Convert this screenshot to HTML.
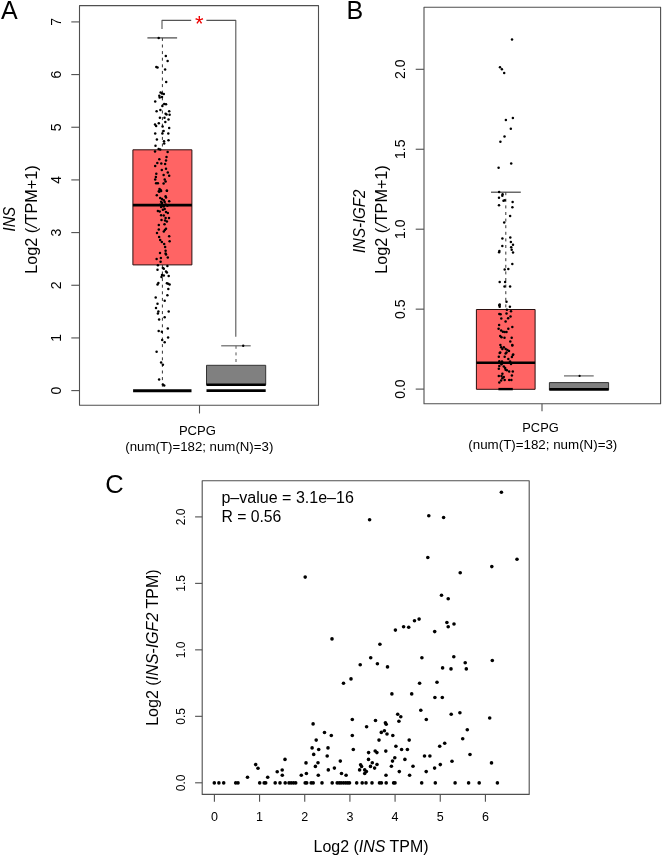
<!DOCTYPE html>
<html><head><meta charset="utf-8"><style>
html,body{margin:0;padding:0;background:#fff;}
svg{display:block;font-family:"Liberation Sans", sans-serif;will-change:transform;-webkit-font-smoothing:antialiased;}
</style></head><body>
<svg width="667" height="857" viewBox="0 0 667 857">
<rect x="0" y="0" width="667" height="857" fill="#fff"/>
<text x="1.00" y="19.00" font-size="25" text-anchor="start" fill="#000" >A</text>
<rect x="79.50" y="5.60" width="239.00" height="399.60" fill="none" stroke="#4f4f4f" stroke-width="1.1" stroke-linejoin="round"/>
<line x1="71.30" y1="390.60" x2="79.50" y2="390.60" stroke="#4f4f4f" stroke-width="1.1" />
<text x="60.60" y="390.60" font-size="14" text-anchor="middle" transform="rotate(-90 60.60 390.60)" fill="#000" >0</text>
<line x1="71.30" y1="337.93" x2="79.50" y2="337.93" stroke="#4f4f4f" stroke-width="1.1" />
<text x="60.60" y="337.93" font-size="14" text-anchor="middle" transform="rotate(-90 60.60 337.93)" fill="#000" >1</text>
<line x1="71.30" y1="285.26" x2="79.50" y2="285.26" stroke="#4f4f4f" stroke-width="1.1" />
<text x="60.60" y="285.26" font-size="14" text-anchor="middle" transform="rotate(-90 60.60 285.26)" fill="#000" >2</text>
<line x1="71.30" y1="232.59" x2="79.50" y2="232.59" stroke="#4f4f4f" stroke-width="1.1" />
<text x="60.60" y="232.59" font-size="14" text-anchor="middle" transform="rotate(-90 60.60 232.59)" fill="#000" >3</text>
<line x1="71.30" y1="179.92" x2="79.50" y2="179.92" stroke="#4f4f4f" stroke-width="1.1" />
<text x="60.60" y="179.92" font-size="14" text-anchor="middle" transform="rotate(-90 60.60 179.92)" fill="#000" >4</text>
<line x1="71.30" y1="127.25" x2="79.50" y2="127.25" stroke="#4f4f4f" stroke-width="1.1" />
<text x="60.60" y="127.25" font-size="14" text-anchor="middle" transform="rotate(-90 60.60 127.25)" fill="#000" >5</text>
<line x1="71.30" y1="74.58" x2="79.50" y2="74.58" stroke="#4f4f4f" stroke-width="1.1" />
<text x="60.60" y="74.58" font-size="14" text-anchor="middle" transform="rotate(-90 60.60 74.58)" fill="#000" >6</text>
<line x1="71.30" y1="21.91" x2="79.50" y2="21.91" stroke="#4f4f4f" stroke-width="1.1" />
<text x="60.60" y="21.91" font-size="14" text-anchor="middle" transform="rotate(-90 60.60 21.91)" fill="#000" >7</text>
<text x="15.30" y="219.20" font-size="16" text-anchor="middle" font-style="italic" textLength="24.5" lengthAdjust="spacingAndGlyphs" transform="rotate(-90 15.30 219.20)" fill="#000" >INS</text>
<text x="36.6" y="219.6" font-size="16" text-anchor="middle" transform="rotate(-90 36.6 219.6)" textLength="108.5" lengthAdjust="spacingAndGlyphs">Log2 (<tspan font-style="italic">/</tspan>TPM+1)</text>
<rect x="132.90" y="149.80" width="59.00" height="115.10" fill="#ff6464" stroke="#2a1010" stroke-width="1.0" stroke-linejoin="round"/>
<line x1="162.40" y1="37.90" x2="162.40" y2="149.80" stroke="#333" stroke-width="1.0" stroke-dasharray="3,3.6"/>
<line x1="162.40" y1="264.90" x2="162.40" y2="390.60" stroke="#333" stroke-width="1.0" stroke-dasharray="3,3.6"/>
<line x1="147.40" y1="37.90" x2="177.10" y2="37.90" stroke="#444" stroke-width="1.2" />
<circle cx="158.7" cy="38.1" r="1.25" fill="#000"/>
<circle cx="165.8" cy="56.1" r="1.25" fill="#000"/>
<circle cx="167.6" cy="61.0" r="1.25" fill="#000"/>
<circle cx="156.3" cy="66.9" r="1.25" fill="#000"/>
<circle cx="157.5" cy="67.6" r="1.25" fill="#000"/>
<circle cx="165.1" cy="69.6" r="1.25" fill="#000"/>
<circle cx="166.2" cy="81.9" r="1.25" fill="#000"/>
<circle cx="160.6" cy="92.6" r="1.25" fill="#000"/>
<circle cx="162.0" cy="93.5" r="1.25" fill="#000"/>
<circle cx="163.8" cy="94.0" r="1.25" fill="#000"/>
<circle cx="159.3" cy="95.8" r="1.25" fill="#000"/>
<circle cx="159.7" cy="97.6" r="1.25" fill="#000"/>
<circle cx="162.0" cy="97.1" r="1.25" fill="#000"/>
<circle cx="155.2" cy="101.4" r="1.25" fill="#000"/>
<circle cx="164.2" cy="103.9" r="1.25" fill="#000"/>
<circle cx="166.0" cy="104.3" r="1.25" fill="#000"/>
<circle cx="162.4" cy="106.1" r="1.25" fill="#000"/>
<circle cx="156.6" cy="111.3" r="1.25" fill="#000"/>
<circle cx="160.4" cy="110.0" r="1.25" fill="#000"/>
<circle cx="169.2" cy="111.3" r="1.25" fill="#000"/>
<circle cx="165.6" cy="113.8" r="1.25" fill="#000"/>
<circle cx="166.5" cy="114.5" r="1.25" fill="#000"/>
<circle cx="169.6" cy="114.7" r="1.25" fill="#000"/>
<circle cx="159.9" cy="117.8" r="1.25" fill="#000"/>
<circle cx="164.5" cy="117.8" r="1.25" fill="#000"/>
<circle cx="168.5" cy="119.6" r="1.25" fill="#000"/>
<circle cx="165.3" cy="121.9" r="1.25" fill="#000"/>
<circle cx="158.8" cy="123.2" r="1.25" fill="#000"/>
<circle cx="155.0" cy="124.6" r="1.25" fill="#000"/>
<circle cx="156.1" cy="125.9" r="1.25" fill="#000"/>
<circle cx="162.6" cy="126.5" r="1.25" fill="#000"/>
<circle cx="169.2" cy="128.0" r="1.25" fill="#000"/>
<circle cx="163.6" cy="131.0" r="1.25" fill="#000"/>
<circle cx="155.2" cy="133.6" r="1.25" fill="#000"/>
<circle cx="168.3" cy="133.6" r="1.25" fill="#000"/>
<circle cx="162.4" cy="133.6" r="1.25" fill="#000"/>
<circle cx="156.9" cy="139.4" r="1.25" fill="#000"/>
<circle cx="164.0" cy="141.2" r="1.25" fill="#000"/>
<circle cx="164.2" cy="143.5" r="1.25" fill="#000"/>
<circle cx="168.5" cy="140.3" r="1.25" fill="#000"/>
<circle cx="155.5" cy="145.8" r="1.25" fill="#000"/>
<circle cx="158.6" cy="149.0" r="1.25" fill="#000"/>
<circle cx="160.2" cy="149.4" r="1.25" fill="#000"/>
<circle cx="155.0" cy="151.5" r="1.25" fill="#000"/>
<circle cx="167.6" cy="152.1" r="1.25" fill="#000"/>
<circle cx="166.5" cy="156.9" r="1.25" fill="#000"/>
<circle cx="159.3" cy="159.2" r="1.25" fill="#000"/>
<circle cx="166.0" cy="160.5" r="1.25" fill="#000"/>
<circle cx="157.3" cy="162.9" r="1.25" fill="#000"/>
<circle cx="161.3" cy="163.6" r="1.25" fill="#000"/>
<circle cx="165.1" cy="164.1" r="1.25" fill="#000"/>
<circle cx="155.2" cy="166.1" r="1.25" fill="#000"/>
<circle cx="166.0" cy="168.8" r="1.25" fill="#000"/>
<circle cx="161.8" cy="170.1" r="1.25" fill="#000"/>
<circle cx="167.8" cy="172.4" r="1.25" fill="#000"/>
<circle cx="163.6" cy="175.1" r="1.25" fill="#000"/>
<circle cx="169.2" cy="175.8" r="1.25" fill="#000"/>
<circle cx="156.3" cy="173.7" r="1.25" fill="#000"/>
<circle cx="155.9" cy="176.9" r="1.25" fill="#000"/>
<circle cx="155.2" cy="179.6" r="1.25" fill="#000"/>
<circle cx="164.7" cy="179.6" r="1.25" fill="#000"/>
<circle cx="165.6" cy="181.4" r="1.25" fill="#000"/>
<circle cx="163.6" cy="183.6" r="1.25" fill="#000"/>
<circle cx="156.1" cy="183.3" r="1.25" fill="#000"/>
<circle cx="157.9" cy="183.3" r="1.25" fill="#000"/>
<circle cx="159.5" cy="189.0" r="1.25" fill="#000"/>
<circle cx="160.6" cy="189.9" r="1.25" fill="#000"/>
<circle cx="159.3" cy="191.7" r="1.25" fill="#000"/>
<circle cx="166.9" cy="190.8" r="1.25" fill="#000"/>
<circle cx="156.8" cy="195.3" r="1.25" fill="#000"/>
<circle cx="165.6" cy="196.2" r="1.25" fill="#000"/>
<circle cx="166.0" cy="197.6" r="1.25" fill="#000"/>
<circle cx="160.2" cy="198.0" r="1.25" fill="#000"/>
<circle cx="162.0" cy="198.9" r="1.25" fill="#000"/>
<circle cx="158.8" cy="191.3" r="1.25" fill="#000"/>
<circle cx="161.1" cy="190.9" r="1.25" fill="#000"/>
<circle cx="166.9" cy="190.7" r="1.25" fill="#000"/>
<circle cx="163.8" cy="200.3" r="1.25" fill="#000"/>
<circle cx="161.1" cy="201.7" r="1.25" fill="#000"/>
<circle cx="162.0" cy="203.0" r="1.25" fill="#000"/>
<circle cx="164.7" cy="202.1" r="1.25" fill="#000"/>
<circle cx="169.2" cy="201.2" r="1.25" fill="#000"/>
<circle cx="160.2" cy="204.8" r="1.25" fill="#000"/>
<circle cx="162.0" cy="205.7" r="1.25" fill="#000"/>
<circle cx="163.8" cy="206.6" r="1.25" fill="#000"/>
<circle cx="165.6" cy="204.4" r="1.25" fill="#000"/>
<circle cx="167.4" cy="205.7" r="1.25" fill="#000"/>
<circle cx="161.1" cy="207.1" r="1.25" fill="#000"/>
<circle cx="164.7" cy="208.9" r="1.25" fill="#000"/>
<circle cx="162.9" cy="209.8" r="1.25" fill="#000"/>
<circle cx="157.9" cy="210.9" r="1.25" fill="#000"/>
<circle cx="159.7" cy="211.6" r="1.25" fill="#000"/>
<circle cx="166.0" cy="212.0" r="1.25" fill="#000"/>
<circle cx="167.8" cy="212.9" r="1.25" fill="#000"/>
<circle cx="161.1" cy="215.2" r="1.25" fill="#000"/>
<circle cx="163.8" cy="215.6" r="1.25" fill="#000"/>
<circle cx="165.6" cy="217.9" r="1.25" fill="#000"/>
<circle cx="169.0" cy="218.1" r="1.25" fill="#000"/>
<circle cx="161.5" cy="220.1" r="1.25" fill="#000"/>
<circle cx="165.1" cy="220.6" r="1.25" fill="#000"/>
<circle cx="166.9" cy="221.5" r="1.25" fill="#000"/>
<circle cx="158.8" cy="225.1" r="1.25" fill="#000"/>
<circle cx="164.5" cy="224.2" r="1.25" fill="#000"/>
<circle cx="158.8" cy="229.6" r="1.25" fill="#000"/>
<circle cx="166.0" cy="228.7" r="1.25" fill="#000"/>
<circle cx="163.8" cy="231.4" r="1.25" fill="#000"/>
<circle cx="164.9" cy="230.0" r="1.25" fill="#000"/>
<circle cx="157.0" cy="233.0" r="1.25" fill="#000"/>
<circle cx="169.2" cy="236.3" r="1.25" fill="#000"/>
<circle cx="159.1" cy="236.9" r="1.25" fill="#000"/>
<circle cx="160.2" cy="239.9" r="1.25" fill="#000"/>
<circle cx="161.8" cy="242.0" r="1.25" fill="#000"/>
<circle cx="169.6" cy="241.3" r="1.25" fill="#000"/>
<circle cx="164.2" cy="244.0" r="1.25" fill="#000"/>
<circle cx="165.1" cy="247.1" r="1.25" fill="#000"/>
<circle cx="165.6" cy="250.8" r="1.25" fill="#000"/>
<circle cx="165.6" cy="253.5" r="1.25" fill="#000"/>
<circle cx="166.0" cy="254.4" r="1.25" fill="#000"/>
<circle cx="160.0" cy="253.0" r="1.25" fill="#000"/>
<circle cx="167.8" cy="257.5" r="1.25" fill="#000"/>
<circle cx="156.6" cy="258.9" r="1.25" fill="#000"/>
<circle cx="160.9" cy="258.0" r="1.25" fill="#000"/>
<circle cx="160.6" cy="261.8" r="1.25" fill="#000"/>
<circle cx="157.9" cy="265.2" r="1.25" fill="#000"/>
<circle cx="167.4" cy="266.1" r="1.25" fill="#000"/>
<circle cx="157.5" cy="269.7" r="1.25" fill="#000"/>
<circle cx="163.8" cy="268.8" r="1.25" fill="#000"/>
<circle cx="162.9" cy="267.9" r="1.25" fill="#000"/>
<circle cx="166.0" cy="271.5" r="1.25" fill="#000"/>
<circle cx="166.9" cy="272.4" r="1.25" fill="#000"/>
<circle cx="162.0" cy="275.1" r="1.25" fill="#000"/>
<circle cx="163.8" cy="275.5" r="1.25" fill="#000"/>
<circle cx="161.5" cy="276.9" r="1.25" fill="#000"/>
<circle cx="168.7" cy="276.0" r="1.25" fill="#000"/>
<circle cx="158.4" cy="283.0" r="1.25" fill="#000"/>
<circle cx="157.5" cy="284.5" r="1.25" fill="#000"/>
<circle cx="166.9" cy="283.2" r="1.25" fill="#000"/>
<circle cx="168.2" cy="283.8" r="1.25" fill="#000"/>
<circle cx="169.6" cy="284.5" r="1.25" fill="#000"/>
<circle cx="168.3" cy="289.0" r="1.25" fill="#000"/>
<circle cx="155.7" cy="297.6" r="1.25" fill="#000"/>
<circle cx="167.4" cy="295.3" r="1.25" fill="#000"/>
<circle cx="164.7" cy="300.8" r="1.25" fill="#000"/>
<circle cx="157.5" cy="303.7" r="1.25" fill="#000"/>
<circle cx="156.0" cy="308.0" r="1.25" fill="#000"/>
<circle cx="158.4" cy="311.6" r="1.25" fill="#000"/>
<circle cx="157.9" cy="313.6" r="1.25" fill="#000"/>
<circle cx="168.7" cy="311.6" r="1.25" fill="#000"/>
<circle cx="164.7" cy="317.2" r="1.25" fill="#000"/>
<circle cx="159.1" cy="319.5" r="1.25" fill="#000"/>
<circle cx="167.8" cy="328.5" r="1.25" fill="#000"/>
<circle cx="158.7" cy="330.9" r="1.25" fill="#000"/>
<circle cx="161.8" cy="331.8" r="1.25" fill="#000"/>
<circle cx="168.1" cy="337.5" r="1.25" fill="#000"/>
<circle cx="162.2" cy="339.9" r="1.25" fill="#000"/>
<circle cx="164.7" cy="342.2" r="1.25" fill="#000"/>
<circle cx="156.6" cy="351.7" r="1.25" fill="#000"/>
<circle cx="161.1" cy="362.5" r="1.25" fill="#000"/>
<circle cx="162.9" cy="364.7" r="1.25" fill="#000"/>
<circle cx="159.1" cy="379.4" r="1.25" fill="#000"/>
<circle cx="162.9" cy="384.5" r="1.25" fill="#000"/>
<circle cx="164.2" cy="385.4" r="1.25" fill="#000"/>
<line x1="133.10" y1="390.70" x2="191.50" y2="390.70" stroke="#000" stroke-width="3.0" />
<line x1="132.90" y1="205.10" x2="191.90" y2="205.10" stroke="#000" stroke-width="2.8" />
<line x1="236.00" y1="345.80" x2="236.00" y2="365.30" stroke="#555" stroke-width="1.0" stroke-dasharray="3,3.6"/>
<line x1="221.20" y1="345.80" x2="250.70" y2="345.80" stroke="#666" stroke-width="1.2" />
<rect x="206.50" y="365.30" width="59.20" height="19.50" fill="#808080" stroke="#333" stroke-width="1.0" stroke-linejoin="round"/>
<line x1="206.50" y1="384.80" x2="265.70" y2="384.80" stroke="#000" stroke-width="2.6" />
<line x1="206.50" y1="390.60" x2="265.70" y2="390.60" stroke="#000" stroke-width="2.6" />
<circle cx="243.2" cy="345.8" r="1.2" fill="#000"/>
<polyline points="162,28.9 162,20.4 191.2,20.4" fill="none" stroke="#555" stroke-width="1.1" stroke-linejoin="round"/>
<polyline points="206.4,20.4 235.8,20.4 235.8,336.8" fill="none" stroke="#555" stroke-width="1.1" stroke-linejoin="round"/>
<text x="199.20" y="31.40" font-size="22" text-anchor="middle" fill="#ee0000" >*</text>
<line x1="199.50" y1="405.20" x2="199.50" y2="413.50" stroke="#4f4f4f" stroke-width="1.1" />
<text x="197.40" y="434.50" font-size="12.5" text-anchor="middle" textLength="37" lengthAdjust="spacingAndGlyphs" fill="#000" >PCPG</text>
<text x="199.30" y="450.50" font-size="12.5" text-anchor="middle" textLength="148" lengthAdjust="spacingAndGlyphs" fill="#000" >(num(T)=182; num(N)=3)</text>
<text x="346.60" y="19.00" font-size="25" text-anchor="start" fill="#000" >B</text>
<rect x="424.00" y="7.20" width="236.60" height="396.60" fill="none" stroke="#4f4f4f" stroke-width="1.1" stroke-linejoin="round"/>
<line x1="415.70" y1="389.10" x2="424.00" y2="389.10" stroke="#4f4f4f" stroke-width="1.1" />
<text x="405.40" y="389.10" font-size="14" text-anchor="middle" transform="rotate(-90 405.40 389.10)" fill="#000" >0.0</text>
<line x1="415.70" y1="309.15" x2="424.00" y2="309.15" stroke="#4f4f4f" stroke-width="1.1" />
<text x="405.40" y="309.15" font-size="14" text-anchor="middle" transform="rotate(-90 405.40 309.15)" fill="#000" >0.5</text>
<line x1="415.70" y1="229.20" x2="424.00" y2="229.20" stroke="#4f4f4f" stroke-width="1.1" />
<text x="405.40" y="229.20" font-size="14" text-anchor="middle" transform="rotate(-90 405.40 229.20)" fill="#000" >1.0</text>
<line x1="415.70" y1="149.25" x2="424.00" y2="149.25" stroke="#4f4f4f" stroke-width="1.1" />
<text x="405.40" y="149.25" font-size="14" text-anchor="middle" transform="rotate(-90 405.40 149.25)" fill="#000" >1.5</text>
<line x1="415.70" y1="69.30" x2="424.00" y2="69.30" stroke="#4f4f4f" stroke-width="1.1" />
<text x="405.40" y="69.30" font-size="14" text-anchor="middle" transform="rotate(-90 405.40 69.30)" fill="#000" >2.0</text>
<text x="365.20" y="221.40" font-size="16" text-anchor="middle" font-style="italic" textLength="63.4" lengthAdjust="spacingAndGlyphs" transform="rotate(-90 365.20 221.40)" fill="#000" >INS-IGF2</text>
<text x="386.9" y="219.5" font-size="16" text-anchor="middle" transform="rotate(-90 386.9 219.5)" textLength="108.5" lengthAdjust="spacingAndGlyphs">Log2 (<tspan font-style="italic">/</tspan>TPM+1)</text>
<rect x="476.40" y="309.50" width="58.70" height="79.80" fill="#ff6464" stroke="#2a1010" stroke-width="1.0" stroke-linejoin="round"/>
<line x1="505.80" y1="192.20" x2="505.80" y2="309.50" stroke="#333" stroke-width="1.0" stroke-dasharray="3,3.6"/>
<line x1="491.00" y1="192.20" x2="520.80" y2="192.20" stroke="#444" stroke-width="1.2" />
<circle cx="512.0" cy="39.5" r="1.25" fill="#000"/>
<circle cx="500.0" cy="67.2" r="1.25" fill="#000"/>
<circle cx="501.9" cy="69.3" r="1.25" fill="#000"/>
<circle cx="504.2" cy="72.9" r="1.25" fill="#000"/>
<circle cx="505.9" cy="120.1" r="1.25" fill="#000"/>
<circle cx="512.9" cy="117.9" r="1.25" fill="#000"/>
<circle cx="510.8" cy="128.8" r="1.25" fill="#000"/>
<circle cx="504.5" cy="136.4" r="1.25" fill="#000"/>
<circle cx="500.4" cy="141.8" r="1.25" fill="#000"/>
<circle cx="511.2" cy="163.4" r="1.25" fill="#000"/>
<circle cx="498.6" cy="167.7" r="1.25" fill="#000"/>
<circle cx="499.1" cy="192.0" r="1.25" fill="#000"/>
<circle cx="502.3" cy="195.7" r="1.25" fill="#000"/>
<circle cx="502.6" cy="194.2" r="1.25" fill="#000"/>
<circle cx="499.0" cy="197.8" r="1.25" fill="#000"/>
<circle cx="503.5" cy="200.7" r="1.25" fill="#000"/>
<circle cx="504.7" cy="200.3" r="1.25" fill="#000"/>
<circle cx="512.6" cy="201.9" r="1.25" fill="#000"/>
<circle cx="499.0" cy="205.2" r="1.25" fill="#000"/>
<circle cx="512.4" cy="207.3" r="1.25" fill="#000"/>
<circle cx="510.1" cy="215.9" r="1.25" fill="#000"/>
<circle cx="504.2" cy="222.5" r="1.25" fill="#000"/>
<circle cx="502.4" cy="238.6" r="1.25" fill="#000"/>
<circle cx="510.3" cy="237.4" r="1.25" fill="#000"/>
<circle cx="510.9" cy="241.9" r="1.25" fill="#000"/>
<circle cx="513.0" cy="244.8" r="1.25" fill="#000"/>
<circle cx="502.3" cy="246.0" r="1.25" fill="#000"/>
<circle cx="511.2" cy="247.2" r="1.25" fill="#000"/>
<circle cx="511.7" cy="249.7" r="1.25" fill="#000"/>
<circle cx="499.4" cy="251.0" r="1.25" fill="#000"/>
<circle cx="499.1" cy="252.3" r="1.25" fill="#000"/>
<circle cx="513.0" cy="252.4" r="1.25" fill="#000"/>
<circle cx="512.3" cy="263.9" r="1.25" fill="#000"/>
<circle cx="504.7" cy="269.5" r="1.25" fill="#000"/>
<circle cx="508.3" cy="269.1" r="1.25" fill="#000"/>
<circle cx="499.7" cy="282.1" r="1.25" fill="#000"/>
<circle cx="505.1" cy="281.9" r="1.25" fill="#000"/>
<circle cx="504.5" cy="286.5" r="1.25" fill="#000"/>
<circle cx="510.1" cy="286.5" r="1.25" fill="#000"/>
<circle cx="506.5" cy="301.7" r="1.25" fill="#000"/>
<circle cx="499.7" cy="304.4" r="1.25" fill="#000"/>
<circle cx="499.3" cy="305.3" r="1.25" fill="#000"/>
<circle cx="499.7" cy="306.7" r="1.25" fill="#000"/>
<circle cx="509.9" cy="306.7" r="1.25" fill="#000"/>
<circle cx="506.9" cy="309.8" r="1.25" fill="#000"/>
<circle cx="511.0" cy="311.2" r="1.25" fill="#000"/>
<circle cx="499.3" cy="313.9" r="1.25" fill="#000"/>
<circle cx="500.6" cy="314.3" r="1.25" fill="#000"/>
<circle cx="506.5" cy="313.4" r="1.25" fill="#000"/>
<circle cx="510.5" cy="316.6" r="1.25" fill="#000"/>
<circle cx="508.1" cy="318.2" r="1.25" fill="#000"/>
<circle cx="501.3" cy="318.4" r="1.25" fill="#000"/>
<circle cx="505.6" cy="321.6" r="1.25" fill="#000"/>
<circle cx="499.1" cy="325.1" r="1.25" fill="#000"/>
<circle cx="498.6" cy="328.7" r="1.25" fill="#000"/>
<circle cx="512.3" cy="326.9" r="1.25" fill="#000"/>
<circle cx="508.3" cy="328.7" r="1.25" fill="#000"/>
<circle cx="501.1" cy="330.5" r="1.25" fill="#000"/>
<circle cx="502.9" cy="331.7" r="1.25" fill="#000"/>
<circle cx="504.7" cy="331.9" r="1.25" fill="#000"/>
<circle cx="506.5" cy="331.9" r="1.25" fill="#000"/>
<circle cx="500.2" cy="335.9" r="1.25" fill="#000"/>
<circle cx="501.5" cy="337.3" r="1.25" fill="#000"/>
<circle cx="504.5" cy="337.7" r="1.25" fill="#000"/>
<circle cx="511.7" cy="337.7" r="1.25" fill="#000"/>
<circle cx="510.3" cy="341.6" r="1.25" fill="#000"/>
<circle cx="512.3" cy="344.9" r="1.25" fill="#000"/>
<circle cx="500.4" cy="344.9" r="1.25" fill="#000"/>
<circle cx="501.1" cy="347.2" r="1.25" fill="#000"/>
<circle cx="502.4" cy="349.0" r="1.25" fill="#000"/>
<circle cx="503.8" cy="347.2" r="1.25" fill="#000"/>
<circle cx="505.6" cy="349.0" r="1.25" fill="#000"/>
<circle cx="507.4" cy="349.9" r="1.25" fill="#000"/>
<circle cx="509.0" cy="350.9" r="1.25" fill="#000"/>
<circle cx="500.2" cy="352.6" r="1.25" fill="#000"/>
<circle cx="506.5" cy="352.6" r="1.25" fill="#000"/>
<circle cx="513.2" cy="354.4" r="1.25" fill="#000"/>
<circle cx="512.3" cy="345.4" r="1.25" fill="#000"/>
<circle cx="499.7" cy="353.1" r="1.25" fill="#000"/>
<circle cx="505.6" cy="353.5" r="1.25" fill="#000"/>
<circle cx="498.8" cy="356.7" r="1.25" fill="#000"/>
<circle cx="504.7" cy="356.7" r="1.25" fill="#000"/>
<circle cx="512.8" cy="354.9" r="1.25" fill="#000"/>
<circle cx="511.9" cy="357.1" r="1.25" fill="#000"/>
<circle cx="508.3" cy="358.9" r="1.25" fill="#000"/>
<circle cx="499.3" cy="361.2" r="1.25" fill="#000"/>
<circle cx="502.0" cy="361.6" r="1.25" fill="#000"/>
<circle cx="501.5" cy="364.3" r="1.25" fill="#000"/>
<circle cx="510.1" cy="361.6" r="1.25" fill="#000"/>
<circle cx="511.0" cy="363.9" r="1.25" fill="#000"/>
<circle cx="499.3" cy="366.1" r="1.25" fill="#000"/>
<circle cx="498.8" cy="368.8" r="1.25" fill="#000"/>
<circle cx="503.8" cy="366.6" r="1.25" fill="#000"/>
<circle cx="505.1" cy="367.9" r="1.25" fill="#000"/>
<circle cx="505.6" cy="369.7" r="1.25" fill="#000"/>
<circle cx="506.9" cy="370.2" r="1.25" fill="#000"/>
<circle cx="509.2" cy="371.5" r="1.25" fill="#000"/>
<circle cx="512.8" cy="371.5" r="1.25" fill="#000"/>
<circle cx="502.4" cy="373.8" r="1.25" fill="#000"/>
<circle cx="501.5" cy="376.0" r="1.25" fill="#000"/>
<circle cx="503.8" cy="376.9" r="1.25" fill="#000"/>
<circle cx="498.8" cy="376.0" r="1.25" fill="#000"/>
<circle cx="511.9" cy="375.6" r="1.25" fill="#000"/>
<circle cx="502.4" cy="378.3" r="1.25" fill="#000"/>
<circle cx="504.7" cy="380.1" r="1.25" fill="#000"/>
<circle cx="501.1" cy="380.5" r="1.25" fill="#000"/>
<circle cx="509.2" cy="380.1" r="1.25" fill="#000"/>
<circle cx="511.4" cy="380.1" r="1.25" fill="#000"/>
<circle cx="499.3" cy="382.6" r="1.25" fill="#000"/>
<line x1="476.40" y1="362.80" x2="535.10" y2="362.80" stroke="#000" stroke-width="2.6" />
<line x1="498.40" y1="389.10" x2="512.80" y2="389.10" stroke="#000" stroke-width="2.4" />
<line x1="564.00" y1="375.90" x2="593.70" y2="375.90" stroke="#666" stroke-width="1.2" />
<rect x="549.40" y="382.60" width="59.20" height="7.50" fill="#808080" stroke="#333" stroke-width="1.0" stroke-linejoin="round"/>
<line x1="549.40" y1="389.30" x2="608.60" y2="389.30" stroke="#000" stroke-width="2.4" />
<circle cx="579.6" cy="375.9" r="1.1" fill="#000"/>
<line x1="542.00" y1="403.80" x2="542.00" y2="411.20" stroke="#4f4f4f" stroke-width="1.1" />
<text x="540.50" y="432.00" font-size="12.5" text-anchor="middle" textLength="36.4" lengthAdjust="spacingAndGlyphs" fill="#000" >PCPG</text>
<text x="542.80" y="448.50" font-size="12.5" text-anchor="middle" textLength="149" lengthAdjust="spacingAndGlyphs" fill="#000" >(num(T)=182; num(N)=3)</text>
<text x="105.30" y="493.30" font-size="25.5" text-anchor="start" fill="#000" >C</text>
<rect x="202.20" y="480.80" width="327.00" height="313.60" fill="none" stroke="#4f4f4f" stroke-width="1.1" stroke-linejoin="round"/>
<line x1="195.10" y1="782.80" x2="202.20" y2="782.80" stroke="#4f4f4f" stroke-width="1.1" />
<text x="185.40" y="782.80" font-size="12" text-anchor="middle" transform="rotate(-90 185.40 782.80)" fill="#000" >0.0</text>
<line x1="195.10" y1="716.32" x2="202.20" y2="716.32" stroke="#4f4f4f" stroke-width="1.1" />
<text x="185.40" y="716.32" font-size="12" text-anchor="middle" transform="rotate(-90 185.40 716.32)" fill="#000" >0.5</text>
<line x1="195.10" y1="649.85" x2="202.20" y2="649.85" stroke="#4f4f4f" stroke-width="1.1" />
<text x="185.40" y="649.85" font-size="12" text-anchor="middle" transform="rotate(-90 185.40 649.85)" fill="#000" >1.0</text>
<line x1="195.10" y1="583.38" x2="202.20" y2="583.38" stroke="#4f4f4f" stroke-width="1.1" />
<text x="185.40" y="583.38" font-size="12" text-anchor="middle" transform="rotate(-90 185.40 583.38)" fill="#000" >1.5</text>
<line x1="195.10" y1="516.90" x2="202.20" y2="516.90" stroke="#4f4f4f" stroke-width="1.1" />
<text x="185.40" y="516.90" font-size="12" text-anchor="middle" transform="rotate(-90 185.40 516.90)" fill="#000" >2.0</text>
<line x1="214.40" y1="794.40" x2="214.40" y2="801.70" stroke="#4f4f4f" stroke-width="1.1" />
<text x="214.40" y="820.60" font-size="12.5" text-anchor="middle" fill="#000" >0</text>
<line x1="259.57" y1="794.40" x2="259.57" y2="801.70" stroke="#4f4f4f" stroke-width="1.1" />
<text x="259.57" y="820.60" font-size="12.5" text-anchor="middle" fill="#000" >1</text>
<line x1="304.74" y1="794.40" x2="304.74" y2="801.70" stroke="#4f4f4f" stroke-width="1.1" />
<text x="304.74" y="820.60" font-size="12.5" text-anchor="middle" fill="#000" >2</text>
<line x1="349.91" y1="794.40" x2="349.91" y2="801.70" stroke="#4f4f4f" stroke-width="1.1" />
<text x="349.91" y="820.60" font-size="12.5" text-anchor="middle" fill="#000" >3</text>
<line x1="395.08" y1="794.40" x2="395.08" y2="801.70" stroke="#4f4f4f" stroke-width="1.1" />
<text x="395.08" y="820.60" font-size="12.5" text-anchor="middle" fill="#000" >4</text>
<line x1="440.25" y1="794.40" x2="440.25" y2="801.70" stroke="#4f4f4f" stroke-width="1.1" />
<text x="440.25" y="820.60" font-size="12.5" text-anchor="middle" fill="#000" >5</text>
<line x1="485.42" y1="794.40" x2="485.42" y2="801.70" stroke="#4f4f4f" stroke-width="1.1" />
<text x="485.42" y="820.60" font-size="12.5" text-anchor="middle" fill="#000" >6</text>
<text x="221.40" y="503.30" font-size="16" text-anchor="start" textLength="132.5" lengthAdjust="spacingAndGlyphs" fill="#000" >p&#8211;value = 3.1e&#8211;16</text>
<text x="221.40" y="521.70" font-size="16" text-anchor="start" textLength="60" lengthAdjust="spacingAndGlyphs" fill="#000" >R = 0.56</text>
<text x="157.9" y="647.6" font-size="16" text-anchor="middle" transform="rotate(-90 157.9 647.6)" textLength="156.5" lengthAdjust="spacingAndGlyphs">Log2 (<tspan font-style="italic">INS-IGF2</tspan> TPM)</text>
<text x="371.1" y="851.6" font-size="16" text-anchor="middle" textLength="115" lengthAdjust="spacingAndGlyphs">Log2 (<tspan font-style="italic">INS</tspan> TPM)</text>
<circle cx="214.3" cy="782.9" r="1.8" fill="#000"/>
<circle cx="218.9" cy="782.9" r="1.8" fill="#000"/>
<circle cx="223.7" cy="782.9" r="1.8" fill="#000"/>
<circle cx="235.7" cy="782.9" r="1.8" fill="#000"/>
<circle cx="238.0" cy="782.9" r="1.8" fill="#000"/>
<circle cx="259.7" cy="782.9" r="1.8" fill="#000"/>
<circle cx="264.2" cy="782.9" r="1.8" fill="#000"/>
<circle cx="265.7" cy="782.9" r="1.8" fill="#000"/>
<circle cx="275.2" cy="782.9" r="1.8" fill="#000"/>
<circle cx="280.0" cy="782.9" r="1.8" fill="#000"/>
<circle cx="285.2" cy="782.9" r="1.8" fill="#000"/>
<circle cx="289.0" cy="782.9" r="1.8" fill="#000"/>
<circle cx="291.2" cy="782.9" r="1.8" fill="#000"/>
<circle cx="293.5" cy="782.9" r="1.8" fill="#000"/>
<circle cx="295.7" cy="782.9" r="1.8" fill="#000"/>
<circle cx="305.2" cy="782.9" r="1.8" fill="#000"/>
<circle cx="306.7" cy="782.9" r="1.8" fill="#000"/>
<circle cx="311.2" cy="782.9" r="1.8" fill="#000"/>
<circle cx="313.2" cy="782.9" r="1.8" fill="#000"/>
<circle cx="322.0" cy="782.9" r="1.8" fill="#000"/>
<circle cx="332.2" cy="782.9" r="1.8" fill="#000"/>
<circle cx="337.2" cy="782.9" r="1.8" fill="#000"/>
<circle cx="339.3" cy="782.9" r="1.8" fill="#000"/>
<circle cx="341.2" cy="782.9" r="1.8" fill="#000"/>
<circle cx="343.5" cy="782.9" r="1.8" fill="#000"/>
<circle cx="345.7" cy="782.9" r="1.8" fill="#000"/>
<circle cx="347.7" cy="782.9" r="1.8" fill="#000"/>
<circle cx="349.5" cy="782.9" r="1.8" fill="#000"/>
<circle cx="356.7" cy="782.9" r="1.8" fill="#000"/>
<circle cx="362.2" cy="782.9" r="1.8" fill="#000"/>
<circle cx="366.0" cy="782.9" r="1.8" fill="#000"/>
<circle cx="372.0" cy="782.9" r="1.8" fill="#000"/>
<circle cx="379.5" cy="782.9" r="1.8" fill="#000"/>
<circle cx="381.4" cy="782.9" r="1.8" fill="#000"/>
<circle cx="386.2" cy="782.9" r="1.8" fill="#000"/>
<circle cx="393.6" cy="782.9" r="1.8" fill="#000"/>
<circle cx="395.0" cy="782.9" r="1.8" fill="#000"/>
<circle cx="421.7" cy="782.9" r="1.8" fill="#000"/>
<circle cx="435.3" cy="782.9" r="1.8" fill="#000"/>
<circle cx="455.1" cy="782.9" r="1.8" fill="#000"/>
<circle cx="468.6" cy="782.9" r="1.8" fill="#000"/>
<circle cx="479.2" cy="782.9" r="1.8" fill="#000"/>
<circle cx="497.4" cy="782.9" r="1.8" fill="#000"/>
<circle cx="501.4" cy="492.2" r="1.8" fill="#000"/>
<circle cx="369.6" cy="519.8" r="1.8" fill="#000"/>
<circle cx="428.8" cy="515.7" r="1.8" fill="#000"/>
<circle cx="443.6" cy="517.5" r="1.8" fill="#000"/>
<circle cx="305.2" cy="577.1" r="1.8" fill="#000"/>
<circle cx="427.8" cy="557.5" r="1.8" fill="#000"/>
<circle cx="517.0" cy="559.3" r="1.8" fill="#000"/>
<circle cx="491.8" cy="566.6" r="1.8" fill="#000"/>
<circle cx="460.2" cy="572.8" r="1.8" fill="#000"/>
<circle cx="441.5" cy="595.2" r="1.8" fill="#000"/>
<circle cx="448.2" cy="598.8" r="1.8" fill="#000"/>
<circle cx="419.1" cy="619.1" r="1.8" fill="#000"/>
<circle cx="414.5" cy="620.7" r="1.8" fill="#000"/>
<circle cx="403.6" cy="626.8" r="1.8" fill="#000"/>
<circle cx="408.7" cy="627.3" r="1.8" fill="#000"/>
<circle cx="395.4" cy="630.1" r="1.8" fill="#000"/>
<circle cx="446.9" cy="622.5" r="1.8" fill="#000"/>
<circle cx="454.0" cy="624.0" r="1.8" fill="#000"/>
<circle cx="448.2" cy="626.8" r="1.8" fill="#000"/>
<circle cx="434.7" cy="631.6" r="1.8" fill="#000"/>
<circle cx="332.0" cy="638.9" r="1.8" fill="#000"/>
<circle cx="379.9" cy="644.2" r="1.8" fill="#000"/>
<circle cx="370.7" cy="657.7" r="1.8" fill="#000"/>
<circle cx="360.2" cy="664.8" r="1.8" fill="#000"/>
<circle cx="377.4" cy="663.8" r="1.8" fill="#000"/>
<circle cx="387.5" cy="666.9" r="1.8" fill="#000"/>
<circle cx="351.0" cy="678.9" r="1.8" fill="#000"/>
<circle cx="343.5" cy="683.3" r="1.8" fill="#000"/>
<circle cx="421.9" cy="657.7" r="1.8" fill="#000"/>
<circle cx="453.8" cy="656.7" r="1.8" fill="#000"/>
<circle cx="465.2" cy="662.8" r="1.8" fill="#000"/>
<circle cx="492.3" cy="660.5" r="1.8" fill="#000"/>
<circle cx="442.6" cy="667.9" r="1.8" fill="#000"/>
<circle cx="451.0" cy="668.9" r="1.8" fill="#000"/>
<circle cx="466.3" cy="668.9" r="1.8" fill="#000"/>
<circle cx="419.6" cy="683.2" r="1.8" fill="#000"/>
<circle cx="437.0" cy="682.2" r="1.8" fill="#000"/>
<circle cx="391.9" cy="693.9" r="1.8" fill="#000"/>
<circle cx="411.7" cy="693.9" r="1.8" fill="#000"/>
<circle cx="434.9" cy="697.5" r="1.8" fill="#000"/>
<circle cx="442.3" cy="697.5" r="1.8" fill="#000"/>
<circle cx="420.8" cy="710.3" r="1.8" fill="#000"/>
<circle cx="451.2" cy="714.3" r="1.8" fill="#000"/>
<circle cx="459.9" cy="712.8" r="1.8" fill="#000"/>
<circle cx="397.7" cy="714.3" r="1.8" fill="#000"/>
<circle cx="400.8" cy="716.8" r="1.8" fill="#000"/>
<circle cx="489.7" cy="718.0" r="1.8" fill="#000"/>
<circle cx="426.3" cy="719.5" r="1.8" fill="#000"/>
<circle cx="375.5" cy="720.5" r="1.8" fill="#000"/>
<circle cx="352.3" cy="719.5" r="1.8" fill="#000"/>
<circle cx="398.9" cy="721.2" r="1.8" fill="#000"/>
<circle cx="366.6" cy="726.7" r="1.8" fill="#000"/>
<circle cx="385.4" cy="722.7" r="1.8" fill="#000"/>
<circle cx="386.2" cy="724.2" r="1.8" fill="#000"/>
<circle cx="381.3" cy="732.4" r="1.8" fill="#000"/>
<circle cx="384.4" cy="730.8" r="1.8" fill="#000"/>
<circle cx="387.0" cy="734.0" r="1.8" fill="#000"/>
<circle cx="392.8" cy="735.5" r="1.8" fill="#000"/>
<circle cx="379.0" cy="740.1" r="1.8" fill="#000"/>
<circle cx="409.2" cy="740.1" r="1.8" fill="#000"/>
<circle cx="395.9" cy="746.3" r="1.8" fill="#000"/>
<circle cx="401.6" cy="749.5" r="1.8" fill="#000"/>
<circle cx="407.4" cy="749.5" r="1.8" fill="#000"/>
<circle cx="439.7" cy="746.3" r="1.8" fill="#000"/>
<circle cx="444.7" cy="743.2" r="1.8" fill="#000"/>
<circle cx="385.8" cy="751.1" r="1.8" fill="#000"/>
<circle cx="375.2" cy="751.0" r="1.8" fill="#000"/>
<circle cx="376.9" cy="752.6" r="1.8" fill="#000"/>
<circle cx="368.6" cy="752.6" r="1.8" fill="#000"/>
<circle cx="368.5" cy="759.4" r="1.8" fill="#000"/>
<circle cx="394.8" cy="757.8" r="1.8" fill="#000"/>
<circle cx="392.5" cy="761.1" r="1.8" fill="#000"/>
<circle cx="404.9" cy="759.4" r="1.8" fill="#000"/>
<circle cx="424.5" cy="756.0" r="1.8" fill="#000"/>
<circle cx="429.9" cy="756.0" r="1.8" fill="#000"/>
<circle cx="391.4" cy="766.3" r="1.8" fill="#000"/>
<circle cx="413.0" cy="766.3" r="1.8" fill="#000"/>
<circle cx="440.3" cy="764.6" r="1.8" fill="#000"/>
<circle cx="434.6" cy="768.1" r="1.8" fill="#000"/>
<circle cx="399.3" cy="771.6" r="1.8" fill="#000"/>
<circle cx="426.2" cy="771.6" r="1.8" fill="#000"/>
<circle cx="386.0" cy="775.3" r="1.8" fill="#000"/>
<circle cx="409.6" cy="775.3" r="1.8" fill="#000"/>
<circle cx="372.3" cy="762.7" r="1.8" fill="#000"/>
<circle cx="370.5" cy="766.4" r="1.8" fill="#000"/>
<circle cx="374.6" cy="768.1" r="1.8" fill="#000"/>
<circle cx="377.0" cy="764.5" r="1.8" fill="#000"/>
<circle cx="360.6" cy="764.8" r="1.8" fill="#000"/>
<circle cx="361.6" cy="766.5" r="1.8" fill="#000"/>
<circle cx="359.6" cy="769.9" r="1.8" fill="#000"/>
<circle cx="364.7" cy="769.9" r="1.8" fill="#000"/>
<circle cx="366.4" cy="771.5" r="1.8" fill="#000"/>
<circle cx="364.7" cy="773.5" r="1.8" fill="#000"/>
<circle cx="467.3" cy="729.7" r="1.8" fill="#000"/>
<circle cx="462.7" cy="738.7" r="1.8" fill="#000"/>
<circle cx="470.0" cy="754.5" r="1.8" fill="#000"/>
<circle cx="452.0" cy="761.3" r="1.8" fill="#000"/>
<circle cx="491.5" cy="762.9" r="1.8" fill="#000"/>
<circle cx="313.1" cy="723.9" r="1.8" fill="#000"/>
<circle cx="324.5" cy="732.5" r="1.8" fill="#000"/>
<circle cx="331.3" cy="735.5" r="1.8" fill="#000"/>
<circle cx="316.2" cy="740.1" r="1.8" fill="#000"/>
<circle cx="312.1" cy="747.9" r="1.8" fill="#000"/>
<circle cx="318.7" cy="749.5" r="1.8" fill="#000"/>
<circle cx="328.0" cy="747.9" r="1.8" fill="#000"/>
<circle cx="313.7" cy="754.4" r="1.8" fill="#000"/>
<circle cx="327.2" cy="756.0" r="1.8" fill="#000"/>
<circle cx="306.0" cy="762.9" r="1.8" fill="#000"/>
<circle cx="318.0" cy="762.7" r="1.8" fill="#000"/>
<circle cx="315.4" cy="766.4" r="1.8" fill="#000"/>
<circle cx="306.4" cy="773.5" r="1.8" fill="#000"/>
<circle cx="301.3" cy="775.3" r="1.8" fill="#000"/>
<circle cx="318.3" cy="775.3" r="1.8" fill="#000"/>
<circle cx="328.3" cy="769.9" r="1.8" fill="#000"/>
<circle cx="334.4" cy="768.1" r="1.8" fill="#000"/>
<circle cx="340.3" cy="761.1" r="1.8" fill="#000"/>
<circle cx="341.5" cy="773.5" r="1.8" fill="#000"/>
<circle cx="346.1" cy="775.3" r="1.8" fill="#000"/>
<circle cx="352.3" cy="735.5" r="1.8" fill="#000"/>
<circle cx="353.3" cy="749.5" r="1.8" fill="#000"/>
<circle cx="247.5" cy="777.3" r="1.8" fill="#000"/>
<circle cx="255.7" cy="764.6" r="1.8" fill="#000"/>
<circle cx="258.0" cy="768.3" r="1.8" fill="#000"/>
<circle cx="267.7" cy="777.3" r="1.8" fill="#000"/>
<circle cx="277.2" cy="771.7" r="1.8" fill="#000"/>
<circle cx="282.2" cy="770.0" r="1.8" fill="#000"/>
<circle cx="282.3" cy="775.3" r="1.8" fill="#000"/>
<circle cx="285.0" cy="759.4" r="1.8" fill="#000"/>
</svg>
</body></html>
